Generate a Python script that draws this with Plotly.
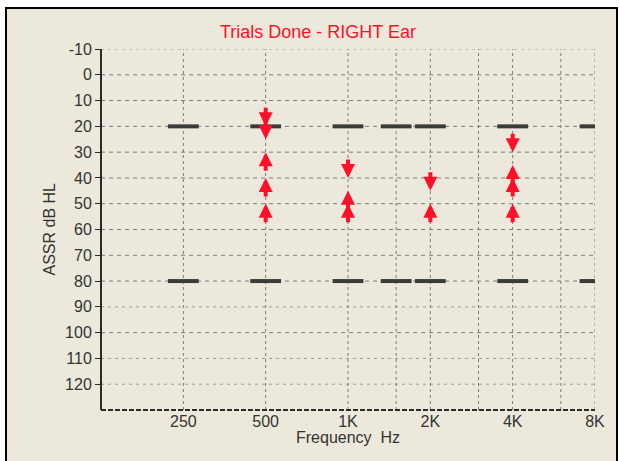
import math
import plotly.graph_objects as go

# --- data -------------------------------------------------------------
freq_tick_vals = [250, 500, 1000, 2000, 4000, 8000]
freq_tick_text = ["250", "500", "1K", "2K", "4K", "8K"]
freq_grid = [250, 500, 1000, 1500, 2000, 3000, 4000, 6000, 8000]
level_ticks = [-10, 0, 10, 20, 30, 40, 50, 60, 70, 80, 90, 100, 110, 120]
level_text = ["-10", "0", "10", "20", "30", "40", "50", "60", "70", "80", "90", "100", "110", "120"]
dotted_levels = [-10, 90, 110, 120]

# search range limits tested at each frequency
limit_freqs = [250, 500, 1000, 1500, 2000, 4000, 8000]
limit_low = [20, 20, 20, 20, 20, 20, 20]
limit_high = [80, 80, 80, 80, 80, 80, 80]

# trials: no response (down arrow) / response (up arrow)
down_freqs = [500, 500, 1000, 2000, 4000]
down_levels = [20, 25, 40, 45, 30]
up_freqs = [500, 500, 500, 1000, 1000, 2000, 4000, 4000, 4000]
up_levels = [30, 40, 50, 45, 50, 50, 35, 40, 50]

BG = "#ECE9DC"
GRID = "#7a7a7a"
AXIS = "#2a2a2a"
RED = "#ff1028"
TXT = "#333333"
FONT = "Liberation Sans, Arial"

fig = go.Figure()

shapes = []
# window frame
shapes.append(dict(type="rect", xref="paper", yref="paper",
                   x0=(6 - 101) / 494, x1=(617 - 101) / 494,
                   y0=-0.3, y1=1 + (49 - 8) / 361,
                   fillcolor=BG, line=dict(color="black", width=2), layer="below"))
# gridlines
for lv in level_ticks:
    dotted = lv in dotted_levels
    shapes.append(dict(type="line", xref="paper", yref="y", x0=0, x1=1, y0=lv, y1=lv,
                       line=dict(color="#9a9a9a" if dotted else GRID, width=1,
                                 dash="3px,4px" if dotted else "4px,4px"),
                       layer="below"))
for f in freq_grid:
    shapes.append(dict(type="line", xref="x", yref="paper", x0=f, x1=f,
                       y0=0, y1=1, line=dict(color=GRID, width=1, dash="3px,3px"), layer="below"))
# axis lines
shapes.append(dict(type="line", xref="paper", yref="paper", x0=0, x1=0, y0=0, y1=1,
                   line=dict(color=AXIS, width=2), layer="above"))
shapes.append(dict(type="line", xref="paper", yref="paper", x0=0, x1=1, y0=0, y1=0,
                   line=dict(color=AXIS, width=2, dash="5px,2px"), layer="above"))

# range limit dashes
fig.add_trace(go.Scatter(x=limit_freqs + limit_freqs, y=limit_low + limit_high, mode="markers",
                         marker=dict(symbol="line-ew", size=22, line=dict(color="#3a3a3a", width=4)),
                         cliponaxis=True, showlegend=False, hoverinfo="skip"))

annotations = []
for f, lv in zip(down_freqs, down_levels):
    annotations.append(dict(x=math.log10(f), y=lv, xref="x", yref="y", ax=0, ay=-20,
                            text="", showarrow=True, arrowhead=2, arrowsize=0.7,
                            arrowwidth=4, arrowcolor=RED, standoff=0))
for f, lv in zip(up_freqs, up_levels):
    annotations.append(dict(x=math.log10(f), y=lv, xref="x", yref="y", ax=0, ay=20,
                            text="", showarrow=True, arrowhead=2, arrowsize=0.7,
                            arrowwidth=4, arrowcolor=RED, standoff=0))

annotations.append(dict(text="Trials Done - RIGHT Ear", xref="paper", yref="paper",
                        x=(318 - 101) / 494, y=1 + (49 - 32) / 361,
                        xanchor="center", yanchor="middle", showarrow=False,
                        font=dict(color=RED, size=18, family=FONT)))
annotations.append(dict(text="ASSR dB HL", xref="paper", yref="paper",
                        x=(49 - 101) / 494, y=0.5, textangle=-90,
                        xanchor="center", yanchor="middle", showarrow=False,
                        font=dict(color=TXT, size=16, family=FONT)))
annotations.append(dict(text="Frequency  Hz", xref="paper", yref="paper",
                        x=(348 - 101) / 494, y=-(437 - 410) / 361,
                        xanchor="center", yanchor="middle", showarrow=False,
                        font=dict(color=TXT, size=16, family=FONT)))

fig.update_layout(
    width=620, height=461,
    margin=dict(l=101, r=25, t=49, b=51),
    paper_bgcolor="white",
    plot_bgcolor="rgba(0,0,0,0)",
    shapes=shapes,
    annotations=annotations,
    showlegend=False,
    xaxis=dict(type="log", range=[math.log10(125), math.log10(8000)],
               tickvals=freq_tick_vals, ticktext=freq_tick_text,
               showgrid=False, zeroline=False, showline=False, ticks="",
               ticklabelstandoff=0,
               tickfont=dict(color=TXT, size=16, family=FONT),
               fixedrange=True),
    yaxis=dict(range=[130, -10], tickvals=level_ticks, ticktext=level_text,
               showgrid=False, zeroline=False, showline=False,
               ticks="outside", ticklen=5, tickcolor=AXIS, tickwidth=1,
               ticklabelstandoff=0,
               tickfont=dict(color=TXT, size=16, family=FONT),
               fixedrange=True),
)

fig.write_html("out.html")
